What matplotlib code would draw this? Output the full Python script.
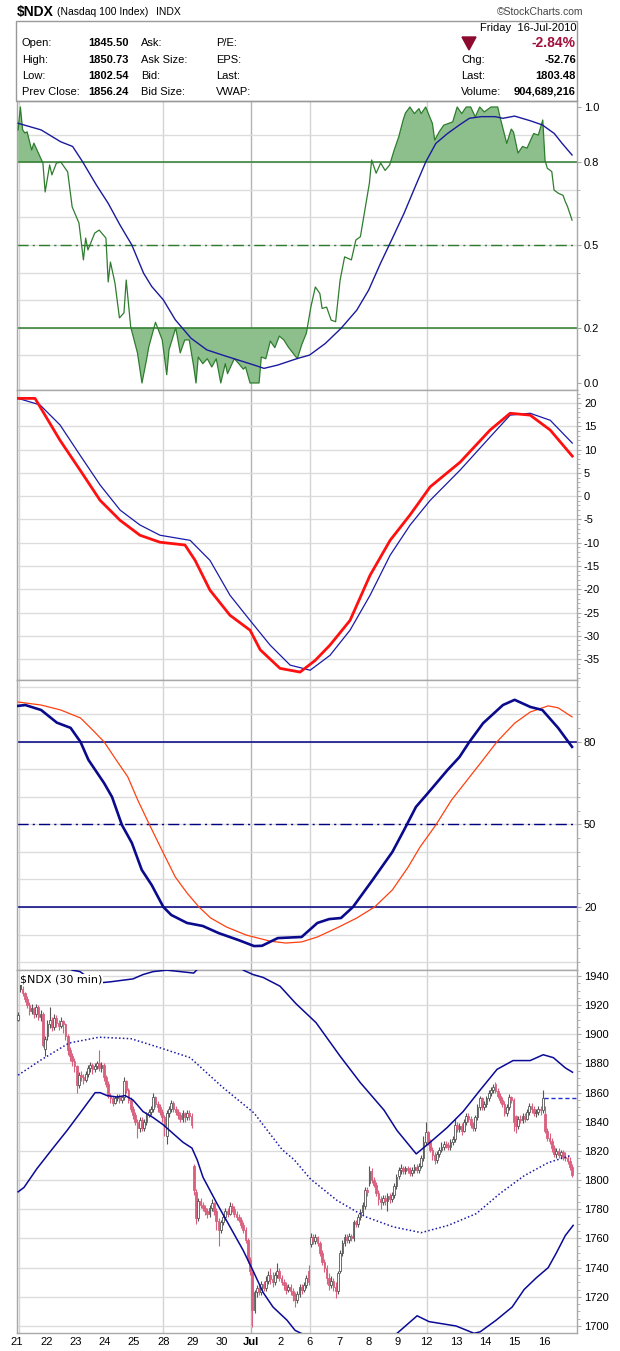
import matplotlib
matplotlib.use("Agg")
import matplotlib.pyplot as plt
from matplotlib.patches import Rectangle, Polygon
import numpy as np

plt.rcParams['font.family'] = ['Liberation Sans', 'DejaVu Sans']

# ---------------- data ----------------
day_labels = ["21", "22", "23", "24", "25", "28", "29", "30", "Jul", "2",
              "6", "7", "8", "9", "12", "13", "14", "15", "16"]
grid_days = [5, 8, 10, 14]          # week starts + month start
BARS = 13                           # 30-min bars per session

opens = [
    1910, 1936, 1931, 1928, 1924, 1920, 1916, 1918, 1914, 1919, 1912, 1914, 1890,
    1899, 1907, 1910, 1905, 1911, 1908, 1906, 1909, 1907, 1899, 1889, 1885, 1882,
    1878, 1865, 1872, 1871, 1869, 1873, 1877, 1879, 1876, 1878, 1880, 1877, 1879,
    1871, 1866, 1858, 1856, 1853, 1856, 1857, 1855, 1857, 1868, 1862, 1855, 1849,
    1845, 1840, 1836, 1841, 1836, 1840, 1845, 1847, 1849, 1857, 1852, 1850, 1847,
    1843, 1830, 1846, 1849, 1853, 1849, 1847, 1845, 1842, 1846, 1843, 1846, 1844,
    1810, 1792, 1774, 1786, 1783, 1781, 1779, 1777, 1781, 1784, 1779, 1772, 1766,
    1771, 1775, 1779, 1777, 1782, 1780, 1777, 1775, 1773, 1769, 1766, 1759, 1745,
    1737, 1711, 1723, 1726, 1723, 1729, 1726, 1731, 1735, 1732, 1730, 1735, 1738,
    1733, 1730, 1728, 1725, 1727, 1724, 1721, 1718, 1722, 1727, 1725, 1728, 1738,
    1756, 1761, 1758, 1761, 1757, 1750, 1744, 1740, 1733, 1728, 1731, 1727, 1724,
    1738, 1750, 1757, 1761, 1759, 1762, 1760, 1771, 1770, 1775, 1778, 1782, 1793,
    1798, 1806, 1800, 1797, 1791, 1787, 1785, 1788, 1786, 1789, 1787, 1790, 1796,
    1803, 1807, 1808, 1806, 1808, 1807, 1805, 1807, 1809, 1807, 1810, 1815, 1826,
    1833, 1826, 1821, 1817, 1814, 1818, 1821, 1823, 1825, 1824, 1823, 1826, 1828,
    1838, 1835, 1837, 1834, 1840, 1844, 1842, 1838, 1836, 1843, 1850, 1856, 1850,
    1852, 1856, 1860, 1862, 1866, 1861, 1858, 1855, 1852, 1846, 1850, 1857, 1855,
    1844, 1837, 1842, 1841, 1844, 1842, 1847, 1851, 1849, 1846, 1847, 1849, 1848,
    1845.5, 1834, 1829, 1827, 1822, 1818, 1820, 1817, 1819, 1816, 1815, 1813, 1809,
]
highs = [
    1915, 1938, 1933, 1929, 1926, 1922, 1921, 1919, 1921, 1920, 1917, 1915, 1899,
    1910, 1919, 1912, 1914, 1913, 1910, 1912, 1910, 1908, 1900, 1891, 1887, 1884,
    1879, 1874, 1875, 1873, 1875, 1879, 1881, 1880, 1880, 1882, 1889, 1881, 1880,
    1872, 1868, 1860, 1858, 1858, 1859, 1859, 1858, 1871, 1869, 1863, 1857, 1851,
    1847, 1842, 1843, 1843, 1842, 1847, 1849, 1851, 1860, 1858, 1854, 1852, 1849,
    1845, 1848, 1851, 1855, 1854, 1851, 1849, 1847, 1848, 1847, 1848, 1848, 1846,
    1811, 1794, 1788, 1788, 1785, 1783, 1781, 1783, 1787, 1785, 1781, 1774, 1773,
    1777, 1781, 1781, 1785, 1784, 1782, 1779, 1777, 1775, 1771, 1768, 1760, 1747,
    1738, 1725, 1728, 1728, 1731, 1731, 1734, 1738, 1740, 1737, 1737, 1743, 1740,
    1735, 1732, 1730, 1729, 1729, 1726, 1723, 1724, 1729, 1729, 1730, 1735, 1742,
    1764, 1763, 1763, 1762, 1758, 1752, 1746, 1742, 1736, 1734, 1733, 1730, 1738,
    1752, 1759, 1763, 1763, 1764, 1763, 1773, 1773, 1777, 1780, 1785, 1795, 1795,
    1810, 1808, 1802, 1799, 1793, 1789, 1790, 1790, 1791, 1791, 1792, 1798, 1804,
    1809, 1811, 1810, 1810, 1810, 1809, 1809, 1811, 1811, 1812, 1817, 1830, 1840,
    1834, 1828, 1823, 1819, 1820, 1823, 1826, 1827, 1827, 1826, 1828, 1830, 1842,
    1840, 1839, 1839, 1842, 1846, 1846, 1844, 1840, 1845, 1852, 1858, 1857, 1854,
    1858, 1862, 1864, 1866, 1867, 1863, 1860, 1857, 1854, 1852, 1859, 1858, 1856,
    1845, 1844, 1845, 1846, 1846, 1849, 1853, 1853, 1851, 1849, 1851, 1851, 1862,
    1850.7, 1836, 1832, 1829, 1824, 1822, 1822, 1821, 1821, 1819, 1817, 1816, 1811,
]
lows = [
    1909, 1929, 1926, 1922, 1918, 1913, 1914, 1911, 1912, 1910, 1909, 1891, 1885,
    1896, 1904, 1902, 1903, 1905, 1903, 1904, 1901, 1896, 1886, 1882, 1878, 1874,
    1860, 1863, 1868, 1866, 1867, 1871, 1874, 1873, 1874, 1876, 1875, 1874, 1868,
    1864, 1856, 1853, 1851, 1852, 1854, 1853, 1853, 1855, 1860, 1853, 1847, 1842,
    1838, 1829, 1833, 1834, 1834, 1838, 1843, 1845, 1847, 1850, 1847, 1845, 1840,
    1830, 1825, 1843, 1847, 1847, 1845, 1842, 1840, 1840, 1840, 1841, 1841, 1836,
    1790, 1770, 1772, 1781, 1779, 1776, 1774, 1775, 1779, 1776, 1766, 1755, 1764,
    1769, 1773, 1775, 1776, 1778, 1775, 1773, 1771, 1767, 1764, 1757, 1743, 1735,
    1699, 1709, 1720, 1721, 1721, 1724, 1724, 1729, 1729, 1727, 1728, 1733, 1731,
    1728, 1725, 1722, 1723, 1721, 1717, 1713, 1716, 1720, 1722, 1723, 1726, 1728,
    1754, 1756, 1756, 1755, 1748, 1742, 1737, 1729, 1725, 1726, 1724, 1719, 1722,
    1736, 1748, 1755, 1757, 1757, 1758, 1758, 1768, 1768, 1773, 1776, 1780, 1789,
    1796, 1798, 1795, 1789, 1783, 1780, 1783, 1783, 1779, 1784, 1785, 1788, 1794,
    1801, 1804, 1804, 1804, 1805, 1803, 1803, 1805, 1805, 1805, 1808, 1813, 1824,
    1824, 1819, 1814, 1811, 1812, 1816, 1819, 1821, 1822, 1821, 1821, 1824, 1826,
    1833, 1833, 1831, 1833, 1838, 1840, 1836, 1834, 1834, 1841, 1848, 1848, 1848,
    1850, 1854, 1858, 1860, 1860, 1856, 1853, 1850, 1844, 1844, 1848, 1853, 1834,
    1832, 1835, 1839, 1839, 1840, 1841, 1845, 1846, 1844, 1843, 1845, 1845, 1846,
    1832, 1827, 1825, 1819, 1816, 1815, 1815, 1815, 1814, 1813, 1811, 1807, 1802.5,
]
closes = [
    1913, 1931, 1928, 1924, 1920, 1916, 1918, 1914, 1919, 1912, 1914, 1893, 1897,
    1907, 1910, 1905, 1911, 1908, 1906, 1909, 1907, 1899, 1889, 1885, 1882, 1878,
    1865, 1872, 1871, 1869, 1873, 1877, 1879, 1876, 1878, 1880, 1877, 1879, 1871,
    1866, 1858, 1856, 1853, 1856, 1857, 1855, 1857, 1868, 1862, 1855, 1849, 1845,
    1840, 1836, 1841, 1836, 1840, 1845, 1847, 1849, 1857, 1852, 1850, 1847, 1843,
    1837, 1846, 1849, 1853, 1849, 1847, 1845, 1842, 1846, 1843, 1846, 1844, 1838,
    1793, 1774, 1786, 1783, 1781, 1779, 1777, 1781, 1784, 1779, 1772, 1766, 1771,
    1775, 1779, 1777, 1782, 1780, 1777, 1775, 1773, 1769, 1766, 1759, 1745, 1738,
    1711, 1723, 1726, 1723, 1729, 1726, 1731, 1735, 1732, 1730, 1735, 1738, 1733,
    1730, 1728, 1725, 1727, 1724, 1721, 1718, 1722, 1727, 1725, 1728, 1733, 1730,
    1761, 1758, 1761, 1757, 1750, 1744, 1740, 1733, 1728, 1731, 1727, 1724, 1736,
    1750, 1757, 1761, 1759, 1762, 1760, 1771, 1770, 1775, 1778, 1783, 1793, 1792,
    1806, 1800, 1797, 1791, 1787, 1785, 1788, 1786, 1789, 1787, 1790, 1796, 1802,
    1807, 1808, 1806, 1808, 1807, 1805, 1807, 1809, 1807, 1810, 1815, 1826, 1833,
    1826, 1821, 1817, 1814, 1818, 1821, 1823, 1825, 1824, 1823, 1826, 1828, 1838,
    1835, 1837, 1834, 1840, 1844, 1842, 1838, 1836, 1843, 1850, 1856, 1850, 1852,
    1856, 1860, 1862, 1864, 1861, 1858, 1855, 1852, 1846, 1850, 1857, 1855, 1840,
    1837, 1842, 1841, 1844, 1842, 1847, 1851, 1849, 1846, 1847, 1849, 1848, 1856.24,
    1834, 1829, 1827, 1822, 1818, 1820, 1817, 1819, 1816, 1815, 1813, 1809, 1803.48,
]
prev_close = 1856.24

# Bollinger-type bands (bar index, value)
upper_idx = [0, 12, 20, 24, 27.5, 34.5, 41, 51, 55.5, 60, 66, 72, 78, 80.5, 86, 95,
             100, 104.3, 108.8, 116.3, 123.4, 132.3, 143, 151.9, 162.5, 168.3, 176.8,
             183, 190.5, 197.6, 205.3, 212.7, 219.8, 227.4, 233.2, 237.7, 243, 246.2]
upper_val = [1962, 1956, 1948, 1944, 1943, 1935, 1936, 1938, 1941, 1943, 1944, 1943, 1942,
             1946, 1955, 1952, 1944, 1941, 1939, 1933, 1921, 1908, 1885, 1867, 1848, 1834,
             1818, 1826, 1836, 1847, 1862, 1876, 1882, 1882, 1886, 1884, 1877, 1874]
mid_idx = [0, 9.7, 22.6, 35.9, 50.1, 62.6, 76.4, 90.6, 104.8, 117.2, 122.6, 129.7, 141.7,
           154.1, 166.5, 179, 191, 203.4, 214.1, 224.7, 235.4, 245.6]
mid_val = [1872, 1882, 1894, 1898, 1897, 1891, 1884, 1864, 1846, 1821, 1814, 1801, 1786,
           1775, 1768, 1764, 1769, 1777, 1791, 1803, 1812, 1817]
lower_idx = [0, 2.6, 8.4, 15.5, 21.7, 27.5, 34.2, 36.4, 39.5, 43.9, 47.5, 51, 55.5, 59.9,
             64.4, 68.8, 73.2, 77.2, 79.5, 82.1, 88.3, 94.1, 99.9, 104.3, 108.8, 113.2,
             119.4, 123, 143, 155, 168.3, 177.2, 182.5, 194.5, 202.5, 205.2, 212.3, 219.4,
             224.7, 230.1, 235.4, 239, 243, 246.5]
lower_val = [1792, 1795, 1808, 1822, 1834, 1846, 1860, 1860, 1858, 1857, 1858, 1855, 1847,
             1843, 1838, 1832, 1826, 1822, 1814, 1802, 1784, 1768, 1752, 1738, 1723, 1713,
             1704, 1697, 1682, 1683, 1695, 1707, 1703, 1700, 1695, 1696, 1704, 1713, 1725,
             1733, 1740, 1750, 1762, 1769]

# panel 1 oscillator (0..1) and its signal line
osc_idx = [0, 1, 2, 3, 4, 6, 7, 9, 11, 12, 14, 15, 17, 19, 22, 24, 27, 29, 30, 31, 34, 36,
           39, 40, 41, 43, 45, 47, 48, 50, 53, 55, 57, 58, 61, 64, 66, 67, 70, 72, 74, 76,
           78, 79, 80, 82, 84, 86, 88, 90, 92, 93, 96, 98, 100, 101, 103, 107, 108, 110,
           112, 114, 116, 118, 120, 122, 124, 126, 128, 130, 132, 134, 135, 137, 139, 141,
           143, 145, 148, 150, 152, 154, 156, 157, 159, 161, 163, 165, 167, 169, 171, 172,
           174, 176, 178, 179, 181, 184, 185, 187, 189, 191, 193, 195, 197, 199, 201, 203,
           205, 207, 210, 213, 214, 217, 219, 220, 222, 224, 226, 228, 229, 231, 233, 234,
           235, 237, 238, 240, 242, 243, 244, 246]
osc_val = [0.917, 1.0, 0.917, 0.906, 0.91, 0.844, 0.869, 0.833, 0.797, 0.692, 0.79, 0.754,
           0.797, 0.80, 0.765, 0.638, 0.58, 0.446, 0.525, 0.482, 0.543, 0.554, 0.525, 0.366,
           0.438, 0.362, 0.236, 0.254, 0.373, 0.203, 0.109, 0.0, 0.083, 0.13, 0.22, 0.156,
           0.03, 0.12, 0.2, 0.109, 0.156, 0.156, 0.058, 0.0, 0.094, 0.07, 0.088, 0.058, 0.088,
           0.0, 0.07, 0.034, 0.088, 0.07, 0.05, 0.058, 0.0, 0.0, 0.094, 0.088, 0.152, 0.128,
           0.17, 0.156, 0.13, 0.109, 0.088, 0.14, 0.18, 0.275, 0.348, 0.324, 0.27, 0.275,
           0.228, 0.222, 0.373, 0.457, 0.446, 0.518, 0.53, 0.627, 0.724, 0.808, 0.76, 0.797,
           0.77, 0.79, 0.844, 0.891, 0.953, 0.978, 1.0, 0.976, 0.994, 0.976, 1.0, 0.94, 0.88,
           0.91, 0.934, 0.94, 0.946, 1.0, 0.976, 1.0, 1.0, 0.964, 1.0, 0.982, 1.0, 1.0, 0.964,
           0.868, 0.92, 0.909, 0.833, 0.857, 0.851, 0.887, 0.904, 0.898, 0.953, 0.807, 0.778,
           0.766, 0.699, 0.687, 0.68, 0.657, 0.639, 0.59]
osc_sig_idx = [0, 10.2, 18.9, 24.2, 28.6, 34.7, 40, 45.2, 50.5, 55.7, 59.3, 64.5, 69.8, 76.8,
               83.8, 90.8, 97.8, 104.8, 109.2, 115.3, 124.1, 129.4, 136.4, 143.4, 150.4,
               155.7, 160.9, 166.2, 171.4, 176.7, 181.1, 185.5, 190.7, 196, 200.4, 205.6,
               211.8, 215.3, 220.5, 227.5, 232.8, 238.1, 241.6, 246]
osc_sig_val = [0.941, 0.917, 0.874, 0.857, 0.802, 0.718, 0.651, 0.573, 0.5, 0.398, 0.35,
               0.301, 0.229, 0.162, 0.12, 0.101, 0.083, 0.065, 0.053, 0.065, 0.089, 0.101,
               0.143, 0.198, 0.264, 0.337, 0.433, 0.524, 0.615, 0.718, 0.802, 0.868, 0.904,
               0.935, 0.959, 0.965, 0.965, 0.959, 0.967, 0.95, 0.935, 0.904, 0.868, 0.826]

# panel 2 (MACD-style) lines
macd_idx = [0, 7.5, 18.6, 27.5, 36.4, 45.3, 54.1, 63, 74.1, 78.6, 85.2, 94.1, 103, 107.5,
            116.3, 125.2, 131.9, 138.5, 147.4, 156.3, 165.2, 174.1, 183, 196.3, 209.6,
            218.5, 227.4, 236.3, 246.1]
macd_val = [21, 21, 12, 5.6, -0.9, -5.2, -8.4, -9.9, -10.5, -13.8, -20.2, -25.6, -28.8, -33,
            -37, -37.8, -35.3, -32, -26.7, -17, -9.5, -4, 2, 7.3, 14.2, 17.8, 17.4, 14.2, 8.6]
sig_idx = [0, 9.7, 18.6, 27.5, 36.4, 45.3, 54.1, 63, 76.4, 85.2, 94.1, 103, 111.9, 120.8,
           129.7, 138.5, 147.4, 156.3, 165.2, 174.1, 183, 196.3, 209.6, 218.5, 227.4, 236.3,
           246.1]
sig_val = [21, 19.6, 15.3, 8.8, 2.4, -3, -6.2, -8.4, -9.5, -13.8, -21.3, -26.7, -32, -36.3,
           -37.4, -34.2, -28.8, -21.3, -12.7, -6.2, -0.9, 5.6, 12.7, 17.4, 17.8, 16.3, 11.4]

# panel 3 (stochastic %K / %D)
k_idx = [0, 3.2, 10.2, 17.2, 23.3, 27.7, 31.2, 38.2, 41.7, 46.1, 50.5, 54.9, 59.3, 64.5, 68,
         75, 82, 89.1, 97.8, 104.8, 108.3, 115.3, 125.9, 132.9, 138.1, 143.4, 148.7, 157.4,
         166.2, 171.4, 176.7, 182, 190.7, 196, 200.4, 206.5, 215.3, 220.5, 227.5, 232.8,
         239.8, 246]
k_val = [93.1, 93.4, 91.6, 87, 85.1, 80, 73.5, 65, 60, 49.8, 43.3, 33.5, 28, 20, 17.1, 14.2,
         13.1, 10.5, 8, 5.8, 5.9, 8.7, 9.1, 14.2, 15.6, 16, 20, 29.8, 40, 48, 56.4, 61.4, 69.8,
         74.5, 80, 86.8, 93.4, 95.3, 92.7, 91.6, 85.1, 78.2]
d_idx = [0, 10.2, 18.9, 27.7, 33, 38.2, 43.5, 48.7, 53.1, 58.4, 64.5, 69.8, 75, 80.3, 85.5,
         92.6, 101.3, 111.8, 118.9, 125.9, 132.9, 141.6, 150.4, 158.3, 166.2, 173.2, 178.5,
         185.5, 192.5, 199.5, 206.5, 212.6, 220.5, 227.5, 235.4, 239.8, 246]
d_val = [94.5, 93.4, 91.6, 88.7, 84.4, 80, 73.5, 67.3, 58.9, 49.8, 39.6, 30.9, 25.1, 20, 16,
         12.7, 9.8, 7.6, 6.9, 7.3, 9.1, 12.4, 16, 20, 26.2, 34.5, 41.8, 49.8, 58.9, 66.2, 73.5,
         80, 86.8, 90.9, 93.1, 92.4, 89.1]

# ---------------- figure ----------------
fig = plt.figure(figsize=(6.2, 13.51), dpi=100)
FW, FH = 620.0, 1351.0


def fx(x):
    return x / FW


def fy(y):
    return 1 - y / FH


XL = (-0.5, 248.2)
GRID = '#dcdcdc'
SPINE = '#a8a8a8'


def make_ax(top, bottom, ylim):
    ax = fig.add_axes([fx(17), fy(bottom), fx(577) - fx(17), fy(top) - fy(bottom)])
    ax.set_xlim(*XL)
    ax.set_ylim(*ylim)
    ax.yaxis.tick_right()
    ax.set_xticks([])
    for s in ax.spines.values():
        s.set_color(SPINE)
        s.set_linewidth(1.0)
    ax.tick_params(axis='y', labelsize=8, length=3, color=SPINE, pad=2)
    ax.tick_params(axis='y', which='minor', length=2, color=SPINE)
    for d in grid_days:
        ax.axvline(d * BARS - 0.5, color='#b4b4b4' if d == 8 else '#d4d4d4', lw=1, zorder=0)
    ax.axvline(0.3, color='#d4d4d4', lw=1, zorder=0)
    return ax


# header
fig.text(fx(17), fy(12), "$NDX", fontsize=10, fontweight='bold', va='center', ha='left')
fig.text(fx(57), fy(12), "(Nasdaq 100 Index)", fontsize=7.5, va='center', ha='left')
fig.text(fx(156), fy(12), "INDX", fontsize=7.5, va='center', ha='left')
fig.text(fx(583), fy(12), "\u00a9StockCharts.com", fontsize=7.5, va='center', ha='right',
         color='#444444')
fig.patches.append(Rectangle((fx(16), fy(101)), fx(577) - fx(16), fy(21) - fy(101),
                             transform=fig.transFigure, fill=False, edgecolor='#999999',
                             lw=1))
rows_y = [43, 60, 76, 92]
left_lab = ["Open:", "High:", "Low:", "Prev Close:"]
left_val = ["1845.50", "1850.73", "1802.54", "1856.24"]
mid_lab = ["Ask:", "Ask Size:", "Bid:", "Bid Size:"]
mid2_lab = ["P/E:", "EPS:", "Last:", "VWAP:"]
for y, a, b, c, d in zip(rows_y, left_lab, left_val, mid_lab, mid2_lab):
    fig.text(fx(22), fy(y), a, fontsize=8, va='center')
    fig.text(fx(129), fy(y), b, fontsize=8, va='center', ha='right', fontweight='bold')
    fig.text(fx(141), fy(y), c, fontsize=8, va='center')
    fig.text(fx(216), fy(y), d, fontsize=8, va='center')
fig.text(fx(576), fy(28), "Friday  16-Jul-2010", fontsize=8, va='center', ha='right')
fig.patches.append(Polygon([(fx(462), fy(37)), (fx(476), fy(37)), (fx(469), fy(50))],
                           closed=True, transform=fig.transFigure, color='#8b0a2e'))
fig.text(fx(576), fy(43), "-2.84%", fontsize=10, va='center', ha='right',
         fontweight='bold', color='#a0103a')
right_lab = ["Chg:", "Last:", "Volume:"]
right_val = ["-52.76", "1803.48", "904,689,216"]
for y, a, b in zip(rows_y[1:], right_lab, right_val):
    fig.text(fx(461), fy(y), a, fontsize=8, va='center')
    fig.text(fx(576), fy(y), b, fontsize=8, va='center', ha='right', fontweight='bold')

# ---- panel 1 ----
ax1 = make_ax(101, 390, (-0.0254, 1.0217))
ax1.set_yticks([0.0, 0.2, 0.5, 0.8, 1.0])
ax1.set_yticklabels(["0.0", "0.2", "0.5", "0.8", "1.0"])
ax1.set_yticks(np.arange(0, 1.01, 0.1), minor=True)
for v in np.arange(0.1, 1.0, 0.1):
    ax1.axhline(v, color=GRID, lw=1, zorder=0)
ox = np.array(osc_idx, dtype=float)
ov = np.array(osc_val)
ax1.fill_between(ox, ov, 0.8, where=ov > 0.8, interpolate=True, color='#8dbf8d', lw=0,
                 zorder=1)
ax1.fill_between(ox, ov, 0.2, where=ov < 0.2, interpolate=True, color='#8dbf8d', lw=0,
                 zorder=1)
ax1.axhline(0.8, color='#2e7d2e', lw=1.1, zorder=2)
ax1.axhline(0.2, color='#2e7d2e', lw=1.1, zorder=2)
ax1.axhline(0.5, color='#2e7d2e', lw=1.0, ls=(0, (8, 3, 1.5, 3)), zorder=2)
ax1.plot(ox, ov, color='#2e7d2e', lw=0.9, zorder=3)
ax1.plot(osc_sig_idx, osc_sig_val, color='#1a1a9c', lw=1.0, zorder=4)

# ---- panel 2 ----
ax2 = make_ax(390, 680, (-39.5, 22.8))
ticks2 = list(range(-35, 21, 5))
ax2.set_yticks(ticks2)
ax2.set_yticklabels([str(t) for t in ticks2])
ax2.set_yticks(np.arange(-39, 23, 1), minor=True)
for v in ticks2:
    ax2.axhline(v, color=GRID, lw=1, zorder=0)
ax2.plot(sig_idx, sig_val, color='#1a1aa8', lw=0.9, zorder=3)
ax2.plot(macd_idx, macd_val, color='#ff1010', lw=2.0, zorder=4)

# ---- panel 3 ----
ax3 = make_ax(680, 970, (-2.9, 102.5))
ax3.set_yticks([20, 50, 80])
ax3.set_yticklabels(["20", "50", "80"])
ax3.set_yticks(np.arange(0, 101, 5), minor=True)
for v in range(0, 101, 10):
    ax3.axhline(v, color=GRID, lw=1, zorder=0)
ax3.axhline(80, color='#000080', lw=1.1, zorder=2)
ax3.axhline(20, color='#000080', lw=1.1, zorder=2)
ax3.axhline(50, color='#000080', lw=1.0, ls=(0, (8, 3, 1.5, 3)), zorder=2)
ax3.plot(d_idx, d_val, color='#ff4010', lw=0.9, zorder=3)
ax3.plot(k_idx, k_val, color='#0a0a8c', lw=1.9, zorder=4)

# ---- panel 4 ----
ax4 = make_ax(970, 1333, (1695.2, 1944.1))
ticks4 = list(range(1700, 1941, 20))
ax4.set_yticks(ticks4)
ax4.set_yticklabels([str(t) for t in ticks4])
ax4.set_yticks(np.arange(1700, 1945, 5), minor=True)
for v in ticks4:
    ax4.axhline(v, color=GRID, lw=1, zorder=0)

xs = np.arange(len(closes))
o = np.array(opens, dtype=float)
h = np.array(highs, dtype=float)
l = np.array(lows, dtype=float)
c = np.array(closes, dtype=float)
prev = np.concatenate([[c[0]], c[:-1]])
cols = np.where(c < prev, '#d9607e', '#555555')
ax4.vlines(xs, l, h, colors=cols, lw=0.8, zorder=3)
body_lo = np.minimum(o, c)
body_h = np.maximum(np.abs(c - o), 0.6)
for i in range(len(xs)):
    hollow = c[i] > o[i]
    ax4.add_patch(Rectangle((xs[i] - 0.38, body_lo[i]), 0.76, body_h[i],
                            facecolor='white' if hollow else cols[i],
                            edgecolor=cols[i], lw=0.6, zorder=4))

ax4.plot(upper_idx, upper_val, color='#0a0a96', lw=1.1, zorder=5)
ax4.plot(lower_idx, lower_val, color='#0a0a96', lw=1.1, zorder=5)
ax4.plot(mid_idx, mid_val, color='#1a1aa8', lw=1.1, ls=(0, (1, 1.5)), zorder=5)
ax4.plot([233.5, XL[1]], [prev_close, prev_close], color='#2030d0', lw=1.0,
         ls=(0, (3, 2)), zorder=5)
ax4.text(0.006, 0.988, "$NDX (30 min)", transform=ax4.transAxes, fontsize=8,
         family=['DejaVu Sans'], va='top', ha='left', zorder=10,
         bbox=dict(facecolor='white', edgecolor='none', pad=0.5))

ax4.set_xticks([d * BARS - 0.5 for d in range(len(day_labels))])
ax4.set_xticklabels(day_labels, fontsize=8)
ax4.tick_params(axis='x', length=0, pad=3)
for t, lab in zip(ax4.get_xticklabels(), day_labels):
    if lab == "Jul":
        t.set_fontweight('bold')

fig.savefig("out.png", dpi=100)
